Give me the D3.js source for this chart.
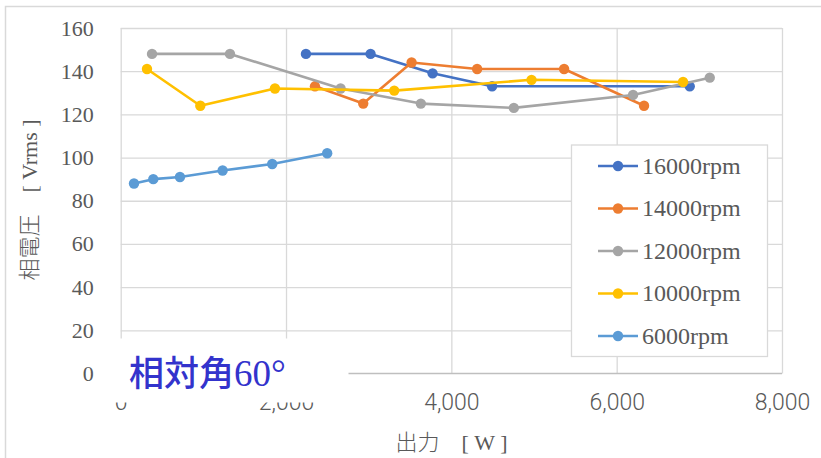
<!DOCTYPE html>
<html>
<head>
<meta charset="utf-8">
<script src="https://cdn.jsdelivr.net/npm/d3@7"></script>
<style>
  html, body { margin: 0; padding: 0; background: #fff; }
  svg { display: block; }
</style>
</head>
<body>
<svg id="chart" width="821" height="458"></svg>
<script>
// Phase voltage vs output power for each rotor speed
const seriesNames = ["16000rpm", "14000rpm", "12000rpm", "10000rpm", "6000rpm"];
const seriesColors = ["#4472C4", "#ED7D31", "#A5A5A5", "#FFC000", "#5B9BD5"];

const power16000 = [2241, 3023, 3773, 4493, 6884];
const volt16000  = [148, 148, 139, 133, 133];

const power14000 = [2350, 2934, 3519, 4312, 5364, 6331];
const volt14000  = [133, 125, 144, 141, 141, 124];

const power12000 = [379, 1322, 2660, 3631, 4756, 6198, 7126];
const volt12000  = [148, 148, 132, 125, 123, 129, 137];

const power10000 = [318, 963, 1866, 3309, 4970, 6803];
const volt10000  = [141, 124, 132, 131, 136, 135];

const power6000 = [161, 394, 717, 1233, 1833, 2498];
const volt6000  = [88, 90, 91, 94, 97, 102];

const xTicks = [0, 2000, 4000, 6000, 8000];
const yTicks = [0, 20, 40, 60, 80, 100, 120, 140, 160];

const xTitleJa = "出力　";
const xTitleUnit = "[ W ]";
const yTitleJa = "相電圧　";
const yTitleUnit = "[ Vrms ]";
const noteJa = "相対角";
const noteAngle = "60°";

const seriesData = [
  [power16000, volt16000],
  [power14000, volt14000],
  [power12000, volt12000],
  [power10000, volt10000],
  [power6000, volt6000]
].map(([xs, ys], i) => ({
  name: seriesNames[i],
  color: seriesColors[i],
  points: xs.map((p, j) => ({ x: p, y: ys[j] }))
}));

const svg = d3.select("#chart");
const plot = { left: 120.7, right: 782, top: 28, bottom: 373.5 };

const x = d3.scaleLinear().domain([0, 8000]).range([plot.left, plot.right]);
const y = d3.scaleLinear().domain([0, 160]).range([plot.bottom, plot.top]);

const gridColor = "#D9D9D9";
const textColor = "#595959";
const serif = "'Liberation Serif', serif";
const cjk = "'Noto Sans CJK JP', sans-serif";
const sans = "Roboto, 'Noto Sans', sans-serif";

// outer chart frame
svg.append("rect")
  .attr("x", 5.5).attr("y", 6.5)
  .attr("width", 830).attr("height", 470)
  .attr("fill", "#fff")
  .attr("stroke", gridColor)
  .attr("stroke-width", 1.5);

// horizontal gridlines
svg.append("g")
  .attr("transform", `translate(${plot.left},0)`)
  .call(d3.axisLeft(y).tickValues(yTicks.filter(v => v > 0))
    .tickSize(-(plot.right - plot.left)).tickFormat(""))
  .call(g => g.select(".domain").remove())
  .call(g => g.selectAll("line").attr("stroke", gridColor).attr("stroke-width", 1.3));

// vertical gridlines
svg.append("g")
  .attr("transform", `translate(0,${plot.bottom})`)
  .call(d3.axisBottom(x).tickValues(xTicks)
    .tickSize(-(plot.bottom - plot.top)).tickFormat(""))
  .call(g => g.select(".domain").remove())
  .call(g => g.selectAll("line").attr("stroke", gridColor).attr("stroke-width", 1.3));

// bottom axis line
svg.append("line")
  .attr("x1", plot.left).attr("x2", plot.right)
  .attr("y1", plot.bottom).attr("y2", plot.bottom)
  .attr("stroke", "#BFBFBF").attr("stroke-width", 1.3);

// y tick labels
svg.append("g")
  .attr("transform", `translate(${plot.left},0)`)
  .call(d3.axisLeft(y).tickValues(yTicks).tickSize(0).tickPadding(27))
  .call(g => g.select(".domain").remove())
  .call(g => g.selectAll("text")
    .attr("fill", textColor)
    .style("font-family", serif)
    .style("font-size", "22px"));

// x tick labels
svg.append("g")
  .attr("transform", `translate(0,${plot.bottom})`)
  .call(d3.axisBottom(x).tickValues(xTicks).tickSize(0).tickPadding(20)
    .tickFormat(d3.format(",")))
  .call(g => g.select(".domain").remove())
  .call(g => g.selectAll("text")
    .attr("fill", textColor)
    .style("font-family", sans)
    .style("font-weight", 300)
    .style("font-size", "23px"));

// axis titles: Japanese part in a gothic face, unit in serif
function axisTitle(sel, ja, unit) {
  sel.append("tspan")
    .style("font-family", cjk)
    .style("font-weight", 300)
    .text(ja);
  sel.append("tspan")
    .style("font-family", serif)
    .text(unit);
}

svg.append("text")
  .attr("x", 451.5).attr("y", 450)
  .attr("text-anchor", "middle")
  .attr("fill", textColor)
  .style("font-size", "22px")
  .call(axisTitle, xTitleJa, xTitleUnit);

svg.append("text")
  .attr("transform", "translate(37,200) rotate(-90)")
  .attr("text-anchor", "middle")
  .attr("fill", textColor)
  .style("font-size", "22px")
  .call(axisTitle, yTitleJa, yTitleUnit);

// series lines and markers
const line = d3.line().x(d => x(d.x)).y(d => y(d.y));
const seriesG = svg.append("g");
seriesData.forEach(s => {
  seriesG.append("path")
    .datum(s.points)
    .attr("d", line)
    .attr("fill", "none")
    .attr("stroke", s.color)
    .attr("stroke-width", 2.6)
    .attr("stroke-linejoin", "round");
  seriesG.selectAll(null)
    .data(s.points)
    .enter().append("circle")
    .attr("cx", d => x(d.x))
    .attr("cy", d => y(d.y))
    .attr("r", 5.2)
    .attr("fill", s.color);
});

// legend
const legend = svg.append("g");
legend.append("rect")
  .attr("x", 571.5).attr("y", 145)
  .attr("width", 196).attr("height", 211.5)
  .attr("fill", "#fff")
  .attr("stroke", gridColor)
  .attr("stroke-width", 1.3);
seriesData.forEach((s, i) => {
  const ly = 166 + i * 42.5;
  legend.append("line")
    .attr("x1", 598).attr("x2", 638)
    .attr("y1", ly).attr("y2", ly)
    .attr("stroke", s.color).attr("stroke-width", 2.6);
  legend.append("circle")
    .attr("cx", 618).attr("cy", ly).attr("r", 5.2)
    .attr("fill", s.color);
  legend.append("text")
    .attr("x", 642).attr("y", ly)
    .attr("dy", "0.33em")
    .attr("fill", textColor)
    .style("font-family", serif)
    .style("font-size", "24px")
    .text(s.name);
});

// annotation label with its white backing
svg.append("rect")
  .attr("x", 104).attr("y", 338.5)
  .attr("width", 244.5).attr("height", 64)
  .attr("fill", "#fff");
const note = svg.append("text")
  .attr("x", 129).attr("y", 386)
  .attr("fill", "#3333CC");
note.append("tspan")
  .style("font-family", cjk)
  .style("font-weight", 500)
  .style("font-size", "35px")
  .text(noteJa);
note.append("tspan")
  .style("font-family", serif)
  .style("font-size", "37px")
  .text(noteAngle);
</script>
</body>
</html>
